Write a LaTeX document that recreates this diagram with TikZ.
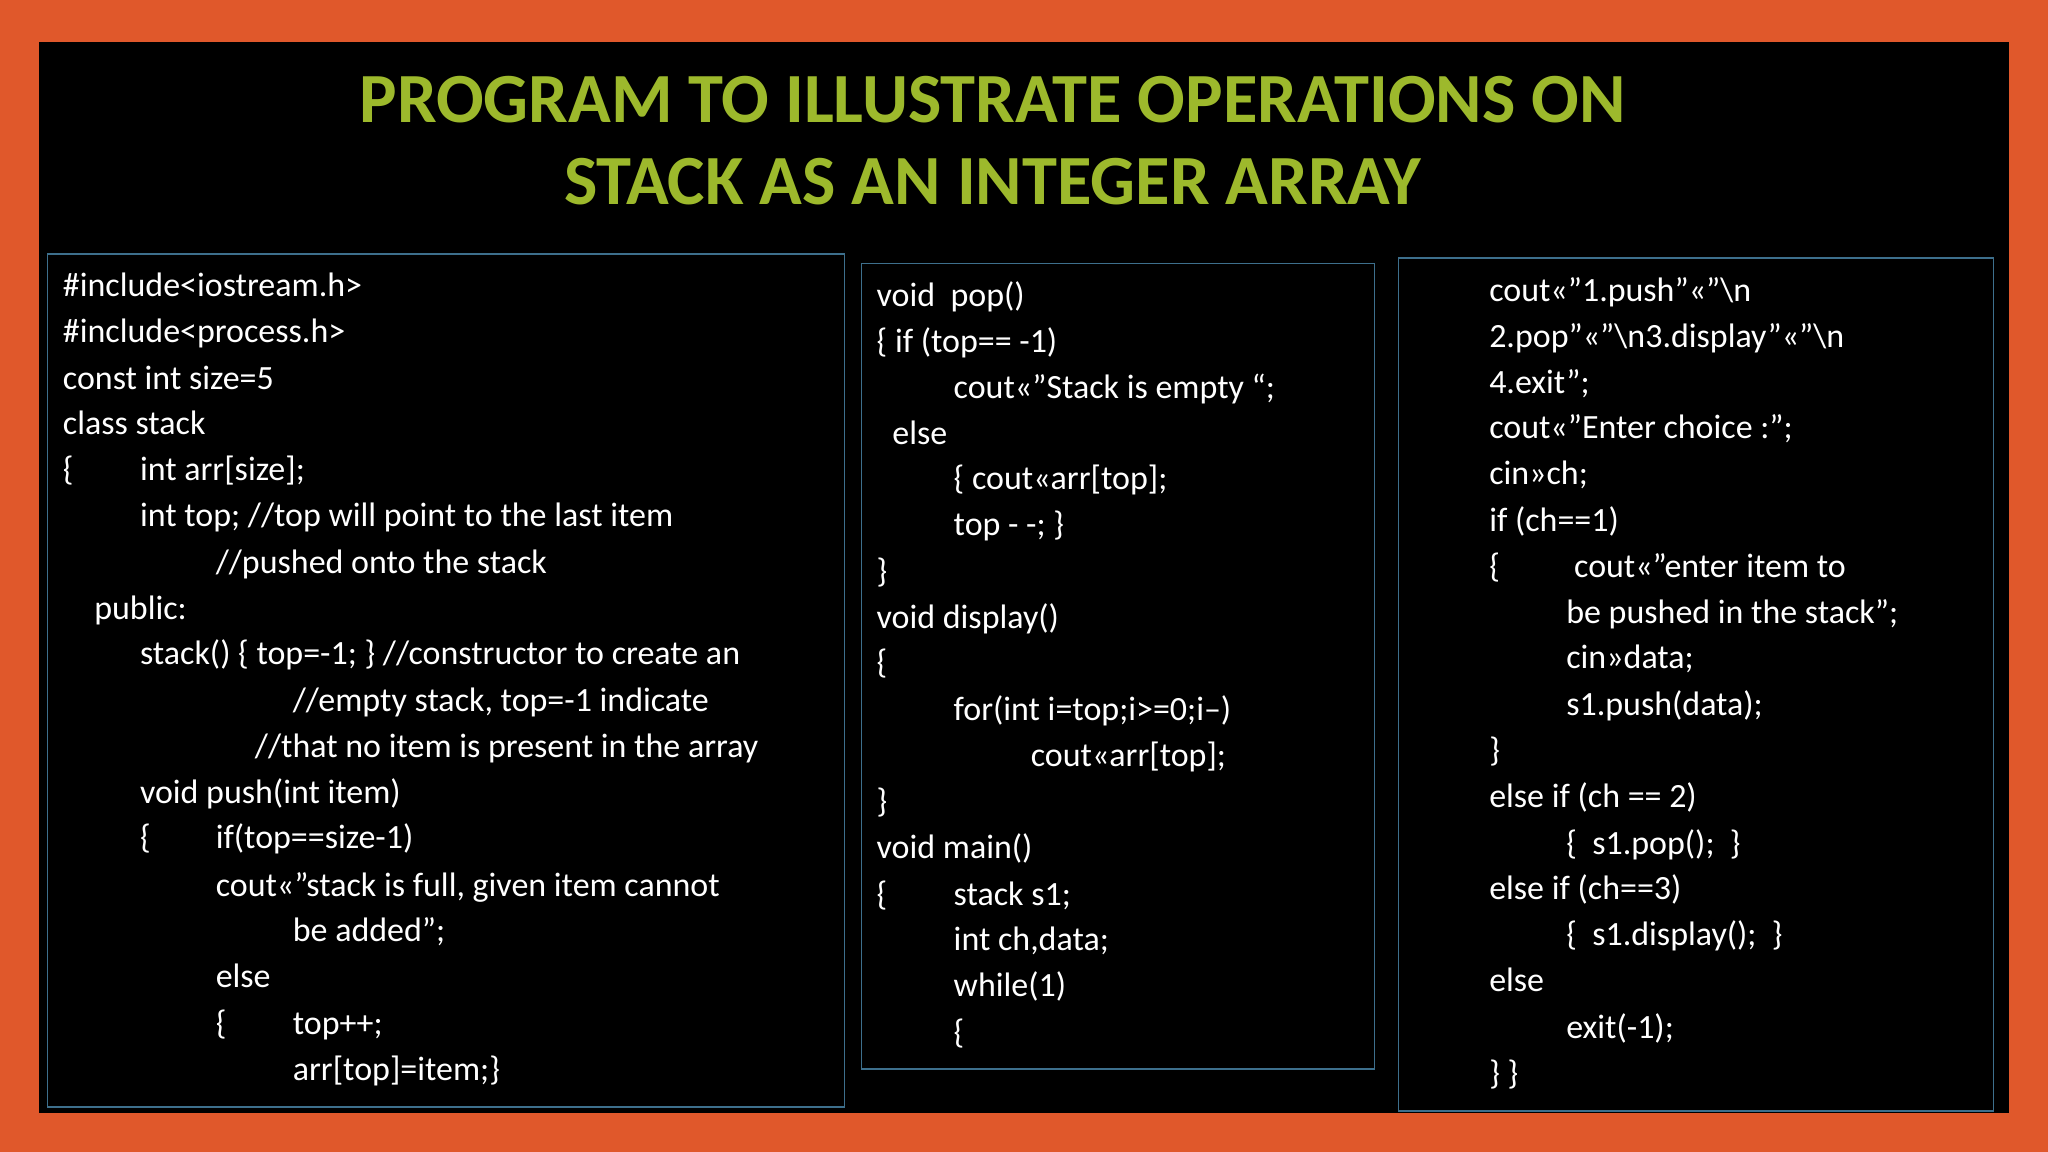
\documentclass[tikz,border=0pt]{standalone}
\usepackage{fontspec}
\setmainfont{Carlito}
\definecolor{frame}{HTML}{E0582B}
\definecolor{ttl}{HTML}{9DB92C}
\definecolor{boxc}{HTML}{3D6F8C}
\tikzset{code/.style={anchor=base west,inner sep=0pt,text=white,font=\fontsize{26}{30}\selectfont},
 cbox/.style={draw=boxc,line width=1pt},
 ttlt/.style={text=ttl,font=\bfseries\fontsize{54}{60}\selectfont,inner sep=0pt}}
\newcommand{\cl}[4]{\node[code] (#1) at (#2,#3+9) {#4};}
\begin{document}
\begin{tikzpicture}[x=1pt,y=-1pt]
\fill[frame] (0,0) rectangle (1568,882);
\fill[black] (30,32) rectangle (1538,852);
\useasboundingbox (0,0) rectangle (1568,882);
\node[ttlt] (t1) at (760,76) {PROGRAM TO ILLUSTRATE OPERATIONS ON};
\node[ttlt] (t2) at (760,139) {STACK AS AN INTEGER ARRAY};
\node[cbox,minimum width=610,minimum height=653,anchor=north west] (bl) at (36,194) {};
\node[cbox,minimum width=393,minimum height=617,anchor=north west] (bm) at (659,201) {};
\node[cbox,minimum width=456,minimum height=653,anchor=north west] (br) at (1070,197) {};
% left
\cl{a1}{48}{218}{\#include<iostream.h>}
\cl{a2}{48}{253}{\#include<process.h>}
\cl{a3}{48}{289}{const int size=5}
\cl{a4}{48}{324}{class stack}
\cl{a5}{48}{359}{\{}
\cl{a5b}{107}{359}{int arr[size];}
\cl{a6}{107}{394}{int top; //top will point to the last item}
\cl{a7}{165}{430}{//pushed onto the stack}
\cl{a8}{72}{465}{public:}
\cl{a9}{107}{500}{stack() \{ top=-1; \} //constructor to create an}
\cl{a10}{224}{536}{//empty stack, top=-1 indicate}
\cl{a11}{195}{571}{//that no item is present in the array}
\cl{a12}{107}{606}{void push(int item)}
\cl{a13}{107}{641}{\{}
\cl{a13b}{165}{641}{if(top==size-1)}
\cl{a14}{165}{677}{cout<<”stack is full, given item cannot}
\cl{a15}{224}{712}{be added”;}
\cl{a16}{165}{747}{else}
\cl{a17}{165}{783}{\{}
\cl{a17b}{224}{783}{top++;}
\cl{a18}{224}{818}{arr[top]=item;\}}
% middle
\cl{b1}{671}{226}{void\ \ pop()}
\cl{b2}{671}{261}{\{ if (top== -1)}
\cl{b3}{730}{296}{cout<<”Stack is empty “;}
\cl{b4}{683}{331}{else}
\cl{b5}{730}{366}{\{ cout<<arr[top];}
\cl{b6}{730}{401}{top - -; \}}
\cl{b7}{671}{437}{\}}
\cl{b8}{671}{472}{void display()}
\cl{b9}{671}{507}{\{}
\cl{b10}{730}{543}{for(int i=top;i>=0;i--)}
\cl{b11}{789}{578}{cout<<arr[top];}
\cl{b12}{671}{613}{\}}
\cl{b13}{671}{648}{void main()}
\cl{b14}{671}{684}{\{}
\cl{b14b}{730}{684}{stack s1;}
\cl{b15}{730}{719}{int ch,data;}
\cl{b16}{730}{754}{while(1)}
\cl{b17}{730}{790}{\{}
% right
\cl{c1}{1140}{222}{cout<<”1.push”<<”\textbackslash n}
\cl{c2}{1140}{257}{2.pop”<<”\textbackslash n3.display”<<”\textbackslash n}
\cl{c3}{1140}{292}{4.exit”;}
\cl{c4}{1140}{327}{cout<<”Enter choice :”;}
\cl{c5}{1140}{362}{cin>>ch;}
\cl{c6}{1140}{398}{if (ch==1)}
\cl{c7}{1140}{433}{\{}
\cl{c7b}{1205}{433}{cout<<”enter item to}
\cl{c8}{1199}{468}{be pushed in the stack”;}
\cl{c9}{1199}{503}{cin>>data;}
\cl{c10}{1199}{539}{s1.push(data);}
\cl{c11}{1140}{574}{\}}
\cl{c12}{1140}{609}{else if (ch == 2)}
\cl{c13}{1199}{645}{\{\ \ s1.pop();\ \ \}}
\cl{c14}{1140}{680}{else if (ch==3)}
\cl{c15}{1199}{715}{\{\ \ s1.display();\ \ \}}
\cl{c16}{1140}{750}{else}
\cl{c17}{1199}{786}{exit(-1);}
\cl{c18}{1140}{821}{\} \}}
\end{tikzpicture}
\end{document}
